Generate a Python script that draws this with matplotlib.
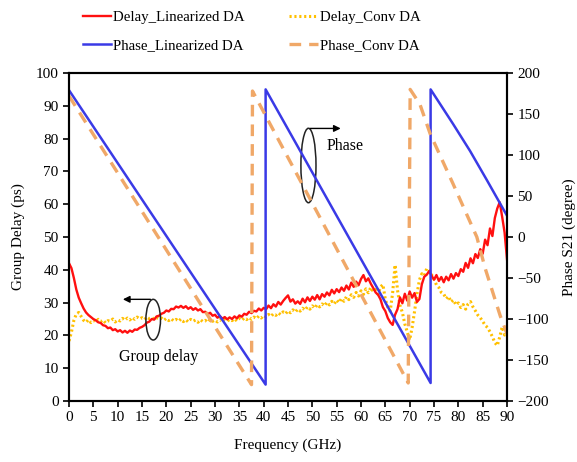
import numpy as np
import matplotlib
matplotlib.use("Agg")
import matplotlib.pyplot as plt
from matplotlib.patches import Ellipse

plt.rcParams['font.family'] = ['Liberation Serif', 'DejaVu Serif']

# group delay traces, 0..90 GHz every 0.5 GHz
freq = np.arange(0, 90.5, 0.5)

delay_lin = [
    42.0, 40.5, 37.5, 34.0, 31.5, 29.8, 28.2, 27.0, 26.2, 25.6,
    25.0, 24.6, 24.0, 23.8, 23.1, 22.9, 22.2, 22.4, 21.6, 21.9,
    21.2, 21.6, 20.9, 21.4, 20.8, 21.5, 21.1, 21.8, 21.7, 22.3,
    22.6, 23.1, 23.9, 24.2, 25.0, 24.8, 25.8, 26.0, 26.6, 26.9,
    27.6, 27.3, 28.1, 28.0, 28.8, 28.5, 29.0, 28.4, 28.9, 28.1,
    28.6, 27.8, 28.3, 27.6, 28.0, 27.1, 27.2, 26.5, 26.9, 26.0,
    26.3, 25.4, 25.9, 25.1, 25.6, 24.9, 25.5, 25.0, 25.8, 25.2,
    26.1, 25.7, 26.6, 26.3, 27.2, 26.8, 27.5, 27.3, 28.2, 27.6,
    28.4, 28.0, 29.1, 28.3, 29.5, 28.8, 30.2, 29.4, 30.5, 31.4,
    32.2, 30.3, 31.0, 29.7, 30.4, 29.6, 31.2, 30.1, 31.6, 30.5,
    31.8, 30.9, 32.3, 31.0, 32.6, 31.8, 33.1, 32.2, 33.9, 32.8,
    34.1, 33.2, 34.6, 33.6, 35.2, 34.0, 36.1, 34.8, 36.4, 35.3,
    37.2, 38.4, 36.5, 37.4, 35.8, 34.5, 33.1, 32.4, 31.0, 28.6,
    27.4, 25.3, 24.0, 23.2, 26.3, 28.0, 31.6, 29.8, 32.7, 30.6,
    33.4, 31.5, 32.9, 30.2, 31.1, 35.6, 37.9, 38.5, 39.6, 38.2,
    37.0, 38.4, 36.6, 37.8, 36.2, 37.9, 36.8, 38.7, 37.3, 39.0,
    38.1, 40.2, 39.4, 42.1, 40.6, 43.5, 42.0, 44.8, 43.6, 46.3,
    44.9, 49.2, 47.5, 52.6, 50.3, 55.8, 58.7, 60.6, 56.2, 51.4,
    43.2,
]

delay_conv = [
    18.3, 21.0, 24.6, 26.5, 27.0, 25.8, 24.6, 24.0, 24.8, 23.9,
    24.6, 24.1, 24.9, 24.2, 24.7, 23.8, 24.5, 24.3, 25.0, 24.1,
    24.8, 24.4, 25.2, 24.6, 25.3, 24.7, 25.5, 24.9, 25.6, 25.0,
    25.4, 24.8, 25.6, 25.1, 25.5, 24.9, 25.4, 25.0, 25.3, 24.6,
    25.2, 24.5, 25.1, 24.4, 24.9, 24.3, 25.0, 24.2, 24.8, 24.1,
    24.9, 24.3, 24.7, 24.0, 24.8, 24.2, 24.6, 24.0, 24.9, 24.3,
    24.7, 24.1, 24.8, 24.4, 25.0, 24.3, 24.9, 24.5, 25.1, 24.4,
    25.2, 24.6, 25.3, 24.8, 25.5, 24.9, 25.6, 25.1, 25.9, 25.3,
    26.1, 25.6, 26.4, 25.8, 26.6, 26.1, 26.9, 26.3, 27.2, 26.6,
    27.5, 26.9, 27.8, 27.1, 28.0, 27.4, 28.3, 27.7, 28.7, 28.0,
    29.0, 28.3, 29.4, 28.7, 29.6, 29.0, 30.1, 29.3, 30.4, 29.6,
    30.8, 30.0, 31.3, 30.4, 31.8, 30.9, 32.4, 31.6, 33.1, 32.0,
    33.6, 32.5, 34.2, 33.0, 34.6, 33.4, 34.0, 32.5, 34.8, 35.5,
    31.0, 28.6, 27.4, 33.0, 41.5, 33.8, 29.2, 27.0, 23.5, 21.0,
    18.6, 22.4, 27.3, 32.6, 36.9, 38.8, 38.2, 40.4, 39.8, 38.5,
    37.2, 35.4, 34.6, 33.1, 32.6, 31.2, 31.9, 30.2, 30.8, 29.3,
    29.9, 28.5, 29.4, 28.0, 29.6, 30.3, 28.7, 27.5, 26.2, 25.4,
    24.3, 23.1, 22.4, 21.1, 19.6, 17.8, 16.9, 19.5, 22.6, 20.1,
    21.4,
]

# S21 phase, wrapped to +-180 degree
phase_lin_f = [0, 40.4, 40.4, 74.3, 74.3, 78.9, 82.4, 85.9, 90]
phase_lin = [179, -180, 180, -178, 180, 138, 105, 69, 26]
phase_conv_f = [0, 37.5, 37.7, 69.7, 70.1, 72.1, 74.2, 78.9, 83.8, 85.5, 88.6, 90]
phase_conv = [172, -180, 178, -178, 180, 162, 126, 65, 0, -38, -96, -118]

fig = plt.figure(figsize=(5.77, 4.62), dpi=100)
ax = fig.add_axes([0.1196, 0.132, 0.7591, 0.710])
ax2 = ax.twinx()

l1, = ax.plot(freq, delay_lin, color='#ff1010', lw=1.7, label='Delay_Linearized DA', zorder=3)
l2, = ax.plot(freq, delay_conv, color='#ffc000', lw=2.2, ls=(0, (0.7, 0.9)),
              label='Delay_Conv DA', zorder=2)
l3, = ax2.plot(phase_lin_f, phase_lin, color='#3a3ae6', lw=1.8, label='Phase_Linearized DA')
l4, = ax2.plot(phase_conv_f, phase_conv, color='#f0a868', lw=2.4, ls=(0, (3.5, 2.4)),
               label='Phase_Conv DA')

ax.set_xlim(0, 90)
ax.set_ylim(0, 100)
ax2.set_ylim(-200, 200)
ax.set_xticks(np.arange(0, 91, 5))
ax.set_yticks(np.arange(0, 101, 10))
ax2.set_yticks(np.arange(-200, 201, 50))

for a in (ax, ax2):
    for s in a.spines.values():
        s.set_linewidth(1.5)
    a.tick_params(direction='out', length=4, width=1.2, labelsize=11)

ax.set_xlabel('Frequency (GHz)', fontsize=11, labelpad=10)
ax.set_ylabel('Group Delay (ps)', fontsize=11, labelpad=8)
ax2.set_ylabel('Phase S21 (degree)', fontsize=11, labelpad=10)

# annotation ellipses with arrows
ax.add_patch(Ellipse((17.3, 24.8), 3.0, 12.4, fill=False, ec='#222222', lw=1.1, zorder=5))
ax.annotate('', xy=(10.5, 31.0), xytext=(17.3, 31.0),
            arrowprops=dict(arrowstyle='-|>', color='black', lw=1.0, mutation_scale=10), zorder=5)
ax.text(18.5, 13.4, 'Group delay', fontsize=11.5, ha='center', va='center')

ax.add_patch(Ellipse((49.2, 71.8), 3.1, 22.7, fill=False, ec='#222222', lw=1.1, zorder=5))
ax.annotate('', xy=(56.4, 83.1), xytext=(49.0, 83.1),
            arrowprops=dict(arrowstyle='-|>', color='black', lw=1.0, mutation_scale=10), zorder=5)
ax.text(56.7, 77.7, 'Phase', fontsize=11.5, ha='center', va='center')

# legend rows: delay pair on top, phase pair below
fig.legend(handles=[l1, l3, l2, l4], loc='upper left', bbox_to_anchor=(0.12, 1.005),
           ncol=2, frameon=False, fontsize=10.7, handlelength=1.9, handletextpad=0.15,
           columnspacing=3.0, labelspacing=0.95)

fig.savefig('out.png', dpi=100)
